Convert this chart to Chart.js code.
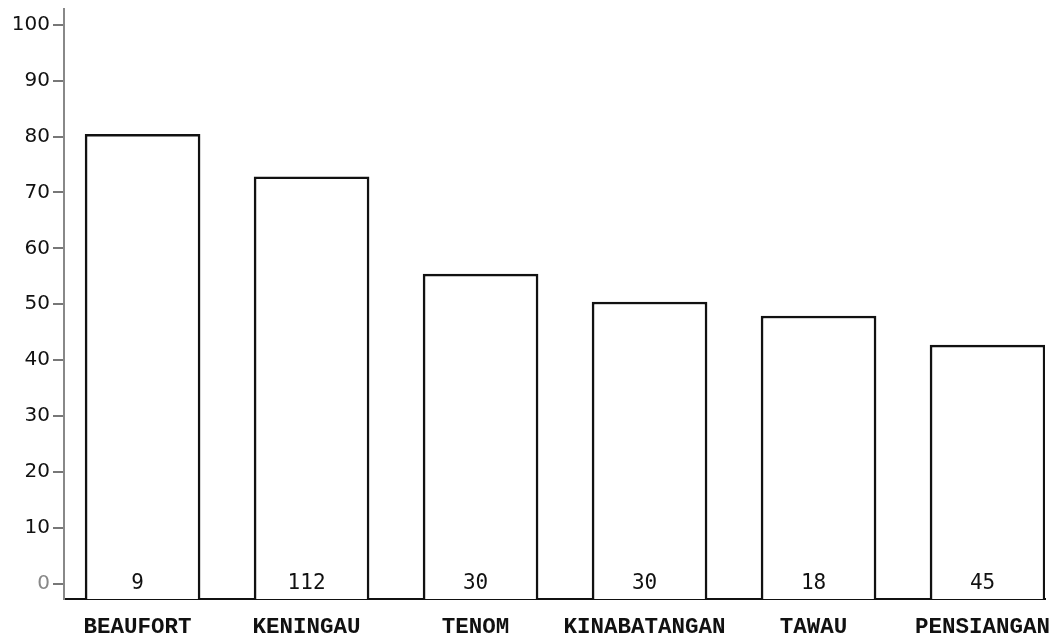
<!DOCTYPE html>
<html>
<head>
<meta charset="utf-8">
<script src="https://cdn.jsdelivr.net/npm/chart.js@4.4.1/dist/chart.umd.min.js"></script>
<style>
  body { margin: 0; background: #fff; overflow: hidden; }
</style>
</head>
<body>
<canvas id="grafico" width="1055" height="639"></canvas>
<script>
const categorias = ['BEAUFORT', 'KENINGAU', 'TENOM', 'KINABATANGAN', 'TAWAU', 'PENSIANGAN'];
const valores = [80.4, 72.8, 55.4, 50.4, 47.9, 42.7];
const conteos = [9, 112, 30, 30, 18, 45];
const ticksY = [0, 10, 20, 30, 40, 50, 60, 70, 80, 90, 100];

const yMin = -2.7;
const yMax = 102.8;

const graficoCanvas = document.getElementById('grafico');

// numeros al pie de cada barra
const etiquetasConteo = {
  id: 'etiquetasConteo',
  afterDatasetsDraw(chart) {
    const ctx = chart.ctx;
    const meta = chart.getDatasetMeta(0);
    const y0 = chart.scales.y.getPixelForValue(0);
    ctx.save();
    ctx.font = '21px "DejaVu Sans Mono"';
    ctx.fillStyle = '#111';
    ctx.textAlign = 'center';
    ctx.textBaseline = 'middle';
    meta.data.forEach((barra, i) => {
      ctx.fillText(String(conteos[i]), barra.x - 5, y0);
    });
    ctx.restore();
  }
};

const chart = new Chart(graficoCanvas, {
  type: 'bar',
  data: {
    datasets: [{
      data: categorias.map((c, i) => ({ x: i, y: valores[i] })),
      backgroundColor: '#ffffff',
      borderColor: '#111111',
      borderWidth: 2.5,
      barThickness: 115,
      base: yMin
    }]
  },
  options: {
    responsive: false,
    animation: false,
    layout: { autoPadding: false, padding: { top: 9, right: 10, left: 0, bottom: 0 } },
    plugins: {
      legend: { display: false },
      tooltip: { enabled: false }
    },
    scales: {
      x: {
        type: 'linear',
        offset: false,
        min: -0.465,
        max: 5.34,
        afterBuildTicks: (scale) => {
          scale.ticks = categorias.map((c, i) => ({ value: i }));
        },
        afterFit: (scale) => {
          scale.height = 40;
          scale.paddingLeft = 0;
          scale.paddingRight = 0;
        },
        grid: { display: false, drawTicks: false },
        border: { display: true, color: '#111111', width: 2 },
        ticks: {
          autoSkip: false,
          maxRotation: 0,
          padding: 15,
          labelOffset: -5,
          color: '#111',
          font: { family: '"Liberation Mono", monospace', size: 22.5, weight: 'bold' },
          callback: (v) => categorias[v]
        }
      },
      y: {
        min: yMin,
        max: yMax,
        afterBuildTicks: (scale) => {
          scale.ticks = ticksY.map(v => ({ value: v }));
        },
        afterFit: (scale) => {
          scale.width = 64;
          scale.paddingTop = 0;
          scale.paddingBottom = 0;
        },
        grid: {
          drawOnChartArea: false,
          drawTicks: true,
          tickLength: 11,
          color: '#777777',
          lineWidth: 2
        },
        border: { display: true, color: '#888888', width: 2 },
        ticks: {
          padding: 3,
          color: (c) => c.tick && c.tick.value === 0 ? '#888888' : '#111111',
          font: { family: '"DejaVu Sans", sans-serif', size: 20 }
        }
      }
    }
  },
  plugins: [etiquetasConteo]
});
</script>
</body>
</html>
